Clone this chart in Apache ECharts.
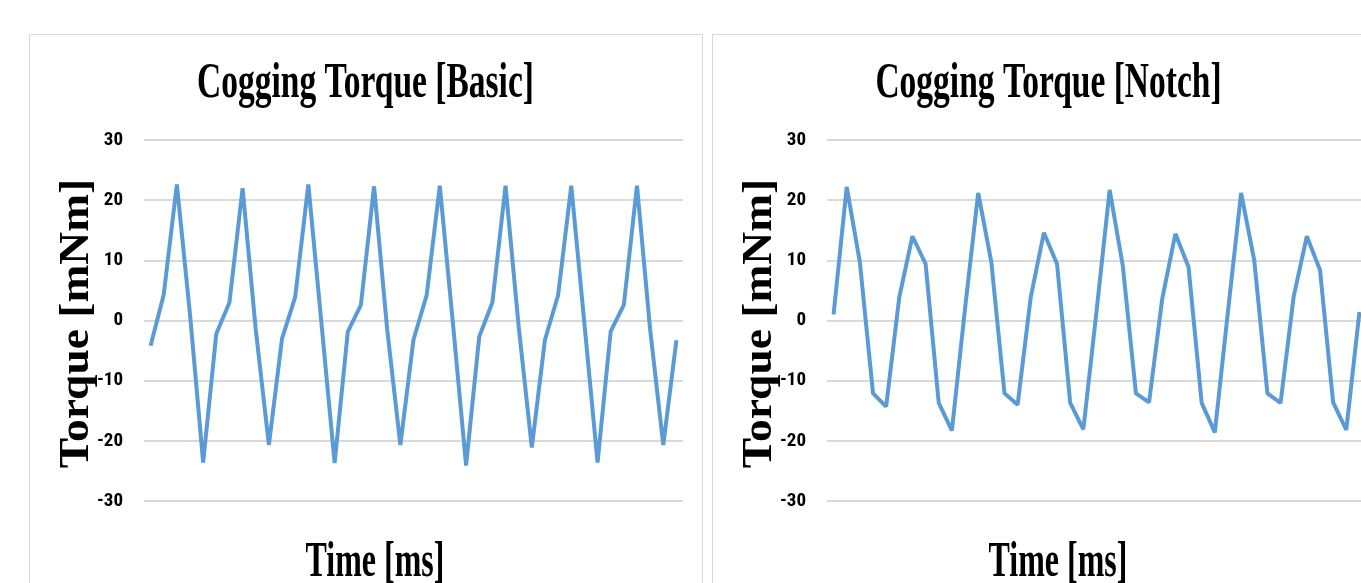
<!DOCTYPE html>
<html><head><meta charset="utf-8">
<script src="https://cdn.jsdelivr.net/npm/echarts@6/dist/echarts.min.js"></script>
<style>
html,body{margin:0;padding:0;width:1361px;height:583px;overflow:hidden;background:#fff;}
.panel{position:absolute;top:34px;width:672px;height:600px;border:1px solid #d9d9d9;background:#fff;}
#chart{position:absolute;left:0;top:0;width:1361px;height:583px;}
</style></head><body>
<div class="panel" style="left:29px"></div>
<div class="panel" style="left:712px"></div>
<div id="chart"></div>
<script>
const timeSteps = ['1','2','3','4','5','6','7','8','9','10','11','12','13','14','15','16','17','18','19','20','21','22','23','24','25','26','27','28','29','30','31','32','33','34','35','36','37','38','39','40','41'];
const basicTorque = [-4.2, 4.3, 22.6, 1.0, -23.6, -2.2, 3.0, 22.0, -1.5, -20.7,
  -3.0, 3.9, 22.6, -0.5, -23.7, -1.9, 2.6, 22.3, -1.5, -20.7,
  -3.2, 4.2, 22.4, -0.5, -24.1, -2.7, 3.0, 22.4, -1.0, -21.1,
  -3.2, 4.2, 22.4, -0.5, -23.6, -1.8, 2.6, 22.4, -1.5, -20.7,
  -3.3];
const notchTorque = [1.0, 22.2, 9.7, -12.1, -14.3, 3.9, 14.0, 9.4, -13.7, -18.3,
  2.0, 21.2, 9.7, -12.1, -14.0, 3.9, 14.6, 9.4, -13.7, -18.1,
  1.5, 21.7, 9.1, -12.1, -13.6, 3.6, 14.4, 8.9, -13.7, -18.6,
  1.5, 21.2, 10.0, -12.1, -13.7, 4.0, 14.0, 8.4, -13.6, -18.2,
  1.4];
const torqueTicks = [-30, -20, -10, 0, 10, 20, 30];
const chartTitles = ['Cogging Torque [Basic]', 'Cogging Torque [Notch]'];
const xAxisTitle = 'Time [ms]';
const yAxisTitle = 'Torque [mNm]';

const panelShift = 683;
const lineColor = '#5b9bd5';
const serif = '"Liberation Serif", "Times New Roman", serif';
const tickFont = '"Liberation Sans Narrow", "Roboto Condensed", Roboto, sans-serif';

const chart = echarts.init(document.getElementById('chart'), null, {renderer: 'canvas'});

function makeX(i) {
  return {type: 'category', gridIndex: i, data: timeSteps, boundaryGap: true,
    axisLine: {show: false}, axisTick: {show: false}, axisLabel: {show: false}, splitLine: {show: false}};
}
function makeY(i) {
  return {type: 'value', gridIndex: i, min: torqueTicks[0], max: torqueTicks[torqueTicks.length - 1],
    interval: torqueTicks[1] - torqueTicks[0],
    axisLine: {show: false}, axisTick: {show: false},
    axisLabel: {margin: 21, color: '#000', fontFamily: tickFont, fontWeight: 'bold', fontSize: 19},
    splitLine: {lineStyle: {color: '#d9d9d9', width: 2}}};
}
function texts(i) {
  const dx = i * panelShift;
  return [
    {type: 'text', x: 365.5 + dx, y: 84, scaleX: 0.67,
      style: {text: chartTitles[i], font: 'bold 50px ' + serif, fill: '#000', align: 'center', verticalAlign: 'middle'}},
    {type: 'text', x: 375 + dx, y: 563, scaleX: 0.64,
      style: {text: xAxisTitle, font: 'bold 50px ' + serif, fill: '#000', align: 'center', verticalAlign: 'middle'}},
    {type: 'text', x: 77 + dx, y: 323.5, rotation: Math.PI / 2, scaleY: 0.92,
      style: {text: yAxisTitle, font: 'bold 45.5px ' + serif, fill: '#000', align: 'center', verticalAlign: 'middle'}}
  ];
}

chart.setOption({
  animation: false,
  backgroundColor: 'transparent',
  grid: [
    {left: 144, top: 140, width: 539, height: 361, containLabel: false, outerBoundsMode: 'none'},
    {left: 144 + panelShift, top: 140, width: 539, height: 361, containLabel: false, outerBoundsMode: 'none'}
  ],
  xAxis: [makeX(0), makeX(1)],
  yAxis: [makeY(0), makeY(1)],
  series: [
    {type: 'line', xAxisIndex: 0, yAxisIndex: 0, data: basicTorque, symbol: 'none',
      lineStyle: {color: lineColor, width: 4}, itemStyle: {color: lineColor}},
    {type: 'line', xAxisIndex: 1, yAxisIndex: 1, data: notchTorque, symbol: 'none',
      lineStyle: {color: lineColor, width: 4}, itemStyle: {color: lineColor}}
  ],
  graphic: texts(0).concat(texts(1))
});
</script>
</body></html>
